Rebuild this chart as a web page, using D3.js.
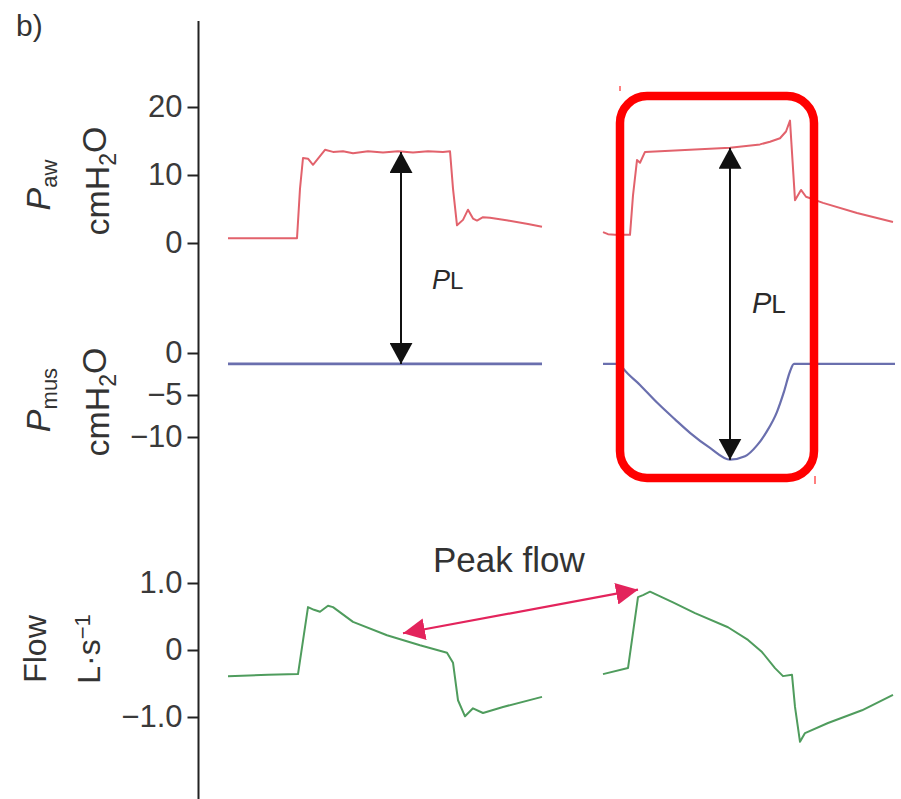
<!DOCTYPE html>
<html>
<head>
<meta charset="utf-8">
<script src="https://cdn.jsdelivr.net/npm/d3@7"></script>
<style>
	body{margin:0;background:#fff;}
	svg{display:block;font-family:"Liberation Sans",Arial,sans-serif;}
	.tick text{fill:#3a3a3a;}
</style>
</head>
<body>
<svg id="chart" width="901" height="799"></svg>
<script>
// time (s) / value pairs, split into the two breaths
var pawLeft = [[0.30,0.7],[0.60,0.7],[0.99,0.7],[1.02,8.0],[1.05,12.5],[1.10,12.4],[1.15,11.5],[1.20,12.4],[1.27,13.7],[1.35,13.4],[1.45,13.5],[1.55,13.2],[1.70,13.5],[1.85,13.3],[2.00,13.5],[2.15,13.3],[2.30,13.5],[2.45,13.4],[2.52,13.5],[2.55,8.0],[2.59,2.6],[2.65,3.4],[2.70,4.9],[2.75,3.6],[2.79,3.3],[2.85,3.8],[2.92,3.7],[3.10,3.3],[3.30,2.8],[3.44,2.4]];
var pawRight = [[4.05,1.6],[4.10,1.3],[4.17,1.2],[4.32,1.2],[4.35,7.0],[4.39,12.2],[4.42,11.8],[4.47,13.4],[4.62,13.5],[4.92,13.7],[5.32,14.0],[5.62,14.5],[5.72,14.9],[5.82,15.4],[5.88,16.4],[5.92,18.0],[5.97,6.3],[6.03,7.8],[6.08,6.8],[6.25,5.9],[6.59,4.4],[6.95,3.1]];
var pmusLeft = [[0.30,-1.3],[3.44,-1.3]];
var pmusRight = [[4.05,-1.3],[4.22,-1.3],[4.25,-1.8],[4.42,-3.8],[4.59,-5.9],[4.77,-7.9],[4.92,-9.5],[5.12,-11.3],[5.32,-12.7],[5.47,-12.3],[5.59,-11.0],[5.69,-9.3],[5.79,-7.0],[5.86,-4.6],[5.92,-2.2],[5.96,-1.3],[6.97,-1.3]];
var flowLeft = [[0.30,-0.39],[0.70,-0.37],[1.00,-0.36],[1.10,0.64],[1.16,0.60],[1.22,0.57],[1.30,0.66],[1.35,0.64],[1.55,0.42],[1.89,0.22],[2.22,0.07],[2.49,-0.04],[2.55,-0.19],[2.60,-0.75],[2.67,-0.99],[2.75,-0.87],[2.85,-0.94],[3.05,-0.85],[3.44,-0.70]];
var flowRight = [[4.05,-0.36],[4.30,-0.27],[4.40,0.79],[4.45,0.82],[4.52,0.87],[4.75,0.71],[4.97,0.55],[5.30,0.34],[5.50,0.15],[5.64,-0.03],[5.77,-0.27],[5.85,-0.39],[5.94,-0.37],[5.97,-0.85],[6.02,-1.37],[6.07,-1.24],[6.30,-1.09],[6.64,-0.90],[6.95,-0.67]];

var pawTicks = [0,10,20];
var pmusTicks = [0,-5,-10];
var flowTicks = [1,0,-1];

// annotation anchors (time, value)
var plLeft = {t:2.03, top:13.4, bottom:-1.3};
var plRight = {t:5.32, top:14.0, bottom:-12.7};
var peakArrow = [[2.05,0.25],[4.40,0.90]];

var svg = d3.select("#chart");
var x = d3.scaleLinear().domain([0,7]).range([198,898]);
var yPaw = d3.scaleLinear().domain([0,20]).range([243,107]);
var yPmus = d3.scaleLinear().domain([-10,0]).range([437,353]);
var yFlow = d3.scaleLinear().domain([-1,1]).range([717,583]);

var minus = function(d){return String(d).replace("-","\u2212")};

// vertical axis line
svg.append("line").attr("x1",198.5).attr("x2",198.5).attr("y1",21).attr("y2",799)
	.attr("stroke","#222").attr("stroke-width",2);

function axis(scale, ticks, fmt){
	var g = svg.append("g").attr("transform","translate(198.5,0)")
		.call(d3.axisLeft(scale).tickValues(ticks).tickSize(11).tickPadding(5).tickFormat(fmt));
	g.select(".domain").remove();
	g.selectAll(".tick line").attr("stroke","#222").attr("stroke-width",2);
	g.selectAll(".tick text").style("font-size","31px").attr("font-family",null);
	return g;
}
axis(yPaw, pawTicks, minus);
axis(yPmus, pmusTicks, minus);
axis(yFlow, flowTicks, function(d){return d===0 ? "0" : minus(d3.format(".1f")(d))});

// traces
function trace(data, y, color, w, curve){
	var line = d3.line().x(function(d){return x(d[0])}).y(function(d){return y(d[1])});
	if(curve){line.curve(curve)}
	svg.append("path").attr("d",line(data)).attr("fill","none")
		.attr("stroke",color).attr("stroke-width",w).attr("stroke-linejoin","round");
}
trace(pawLeft, yPaw, "#e2626c", 2);
trace(pawRight, yPaw, "#e2626c", 2);
trace(pmusLeft, yPmus, "#6a6fae", 2.6);
trace(pmusRight, yPmus, "#6a6fae", 2.2, d3.curveMonotoneX);
trace(flowLeft, yFlow, "#4f9c5d", 2);
trace(flowRight, yFlow, "#4f9c5d", 2);

// arrows
var defs = svg.append("defs");
function marker(id, color, w, l){
	defs.append("marker").attr("id",id).attr("viewBox","0 0 "+l+" "+w)
		.attr("refX",l).attr("refY",w/2).attr("markerWidth",l).attr("markerHeight",w)
		.attr("markerUnits","userSpaceOnUse").attr("orient","auto-start-reverse")
		.append("path").attr("d","M0,0L"+l+","+(w/2)+"L0,"+w+"Z").attr("fill",color);
}
marker("ahBlack","#111",23,21);
marker("ahRed","#e3245c",22,22);

function vArrow(a){
	svg.append("line").attr("x1",x(a.t)).attr("x2",x(a.t))
		.attr("y1",yPaw(a.top)).attr("y2",yPmus(a.bottom))
		.attr("stroke","#111").attr("stroke-width",2)
		.attr("marker-start","url(#ahBlack)").attr("marker-end","url(#ahBlack)");
}
vArrow(plLeft);
vArrow(plRight);

svg.append("line")
	.attr("x1",x(peakArrow[0][0])).attr("y1",yFlow(peakArrow[0][1]))
	.attr("x2",x(peakArrow[1][0])).attr("y2",yFlow(peakArrow[1][1]))
	.attr("stroke","#e3245c").attr("stroke-width",2.2)
	.attr("marker-start","url(#ahRed)").attr("marker-end","url(#ahRed)");

// P_L labels
function plLabel(px, py, size){
	var t = svg.append("text").attr("x",px).attr("y",py).attr("fill","#2a2a2a").style("font-size",size+"px");
	t.append("tspan").text("P").style("font-style","italic");
	t.append("tspan").text("L").style("font-size",(size-3)+"px");
}
plLabel(x(2.34), 289, 27);
plLabel(x(5.54), 313, 29);

svg.append("text").attr("x",433).attr("y",572).attr("fill","#333")
	.style("font-size","35px").text("Peak flow");

// highlight box
svg.append("rect").attr("x",x(4.22)).attr("y",96).attr("width",x(6.16)-x(4.22)).attr("height",382)
	.attr("rx",27).attr("fill","none").attr("stroke","#ff0000").attr("stroke-width",8.5);
svg.append("line").attr("x1",620).attr("x2",620).attr("y1",86).attr("y2",91).attr("stroke","#ff0000").attr("stroke-width",1);
svg.append("line").attr("x1",815).attr("x2",815).attr("y1",476).attr("y2",484).attr("stroke","#ff0000").attr("stroke-width",1);

// panel label
svg.append("text").attr("x",16).attr("y",36).attr("fill","#333").style("font-size","30px").text("b)");

// rotated axis titles
function vLabel(cx, cy, size, parts){
	var t = svg.append("text").attr("transform","translate("+cx+","+cy+") rotate(-90)")
		.attr("text-anchor","middle").attr("fill","#333").style("font-size",size+"px");
	parts.forEach(function(p){
		var s = t.append("tspan").text(p.s);
		if(p.i){s.style("font-style","italic")}
		if(p.size){s.style("font-size",p.size+"px")}
		if(p.dy){s.attr("dy",p.dy)}
	});
}
vLabel(50, 185, 34, [{s:"P",i:1},{s:"aw",size:22,dy:"0.3em"}]);
vLabel(109, 181, 34, [{s:"cmH"},{s:"2",size:23,dy:"0.3em"},{s:"O",dy:"-0.3em"}]);
vLabel(50, 400, 34, [{s:"P",i:1},{s:"mus",size:22,dy:"0.3em"}]);
vLabel(109, 402, 34, [{s:"cmH"},{s:"2",size:23,dy:"0.3em"},{s:"O",dy:"-0.3em"}]);
vLabel(46, 649, 32, [{s:"Flow"}]);
vLabel(100, 649, 32, [{s:"L\u00b7s"},{s:"\u22121",size:22,dy:"-0.45em"}]);
</script>
</body>
</html>
